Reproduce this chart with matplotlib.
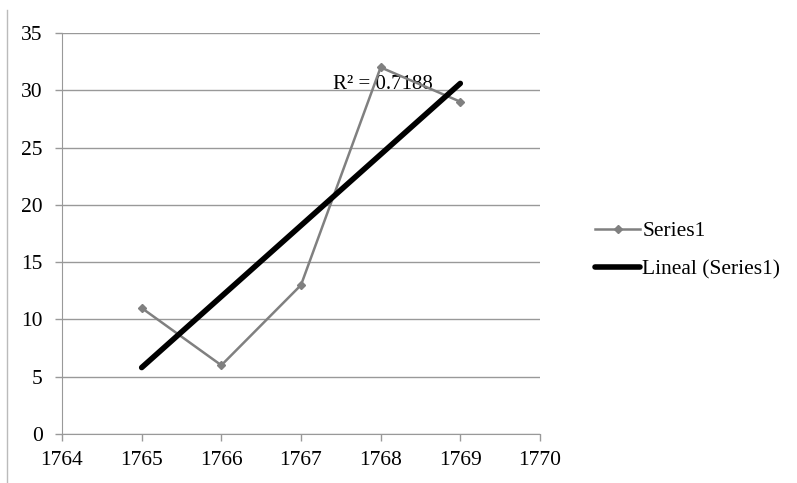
import numpy as np
import matplotlib.pyplot as plt
from matplotlib.lines import Line2D

# Data
years = [1765, 1766, 1767, 1768, 1769]
values = [11, 6, 13, 32, 29]
x_ticks = [1764, 1765, 1766, 1767, 1768, 1769, 1770]
y_ticks = [0, 5, 10, 15, 20, 25, 30, 35]

plt.rcParams['font.family'] = ['Liberation Serif', 'DejaVu Serif']

fig = plt.figure(figsize=(7.97, 4.83), dpi=100)
ax = fig.add_axes([0.0778, 0.1014, 0.5997, 0.8303])

# linear trendline (least squares, like Excel's "Lineal")
slope, intercept = np.polyfit(years, values, 1)
fit = np.polyval([slope, intercept], years)
r2 = 1 - np.sum((np.array(values) - fit) ** 2) / np.sum((np.array(values) - np.mean(values)) ** 2)

ax.plot(years, values, color='#808080', lw=1.8, marker='D', ms=4.5,
        label='Series1', zorder=3)
ax.plot([years[0], years[-1]], np.polyval([slope, intercept], [years[0], years[-1]]),
        color='black', lw=4, solid_capstyle='round', label='Lineal (Series1)', zorder=4)

ax.text(1767.40, 30.5, f'R² = {r2:.4f}', fontsize=15, va='center', ha='left', zorder=2)

ax.set_xlim(1764, 1770)
ax.set_ylim(0, 35)
ax.set_xticks(x_ticks)
ax.set_yticks(y_ticks)
ax.set_xticklabels([str(t) for t in x_ticks])
ax.tick_params(labelsize=15.5, color='#999999', length=5, width=1, direction='out')
ax.tick_params(axis='x', pad=7)
ax.tick_params(axis='y', pad=9)
ax.yaxis.grid(True, color='#999999', lw=1)
ax.set_axisbelow(True)
for side in ['top', 'right']:
    ax.spines[side].set_visible(False)
ax.spines['left'].set_color('#999999')
ax.spines['bottom'].set_color('#999999')

ax.legend(loc='center left', bbox_to_anchor=(1.115, 0.458), frameon=False,
          fontsize=15.5, handlelength=2.1, handletextpad=0.1, labelspacing=0.85,
          borderpad=0, borderaxespad=0)

# left border of the chart box
fig.add_artist(Line2D([0.009, 0.009], [0.0, 0.98], transform=fig.transFigure,
                      color='#bbbbbb', lw=1))

fig.savefig('out.png', dpi=100, facecolor='white')
